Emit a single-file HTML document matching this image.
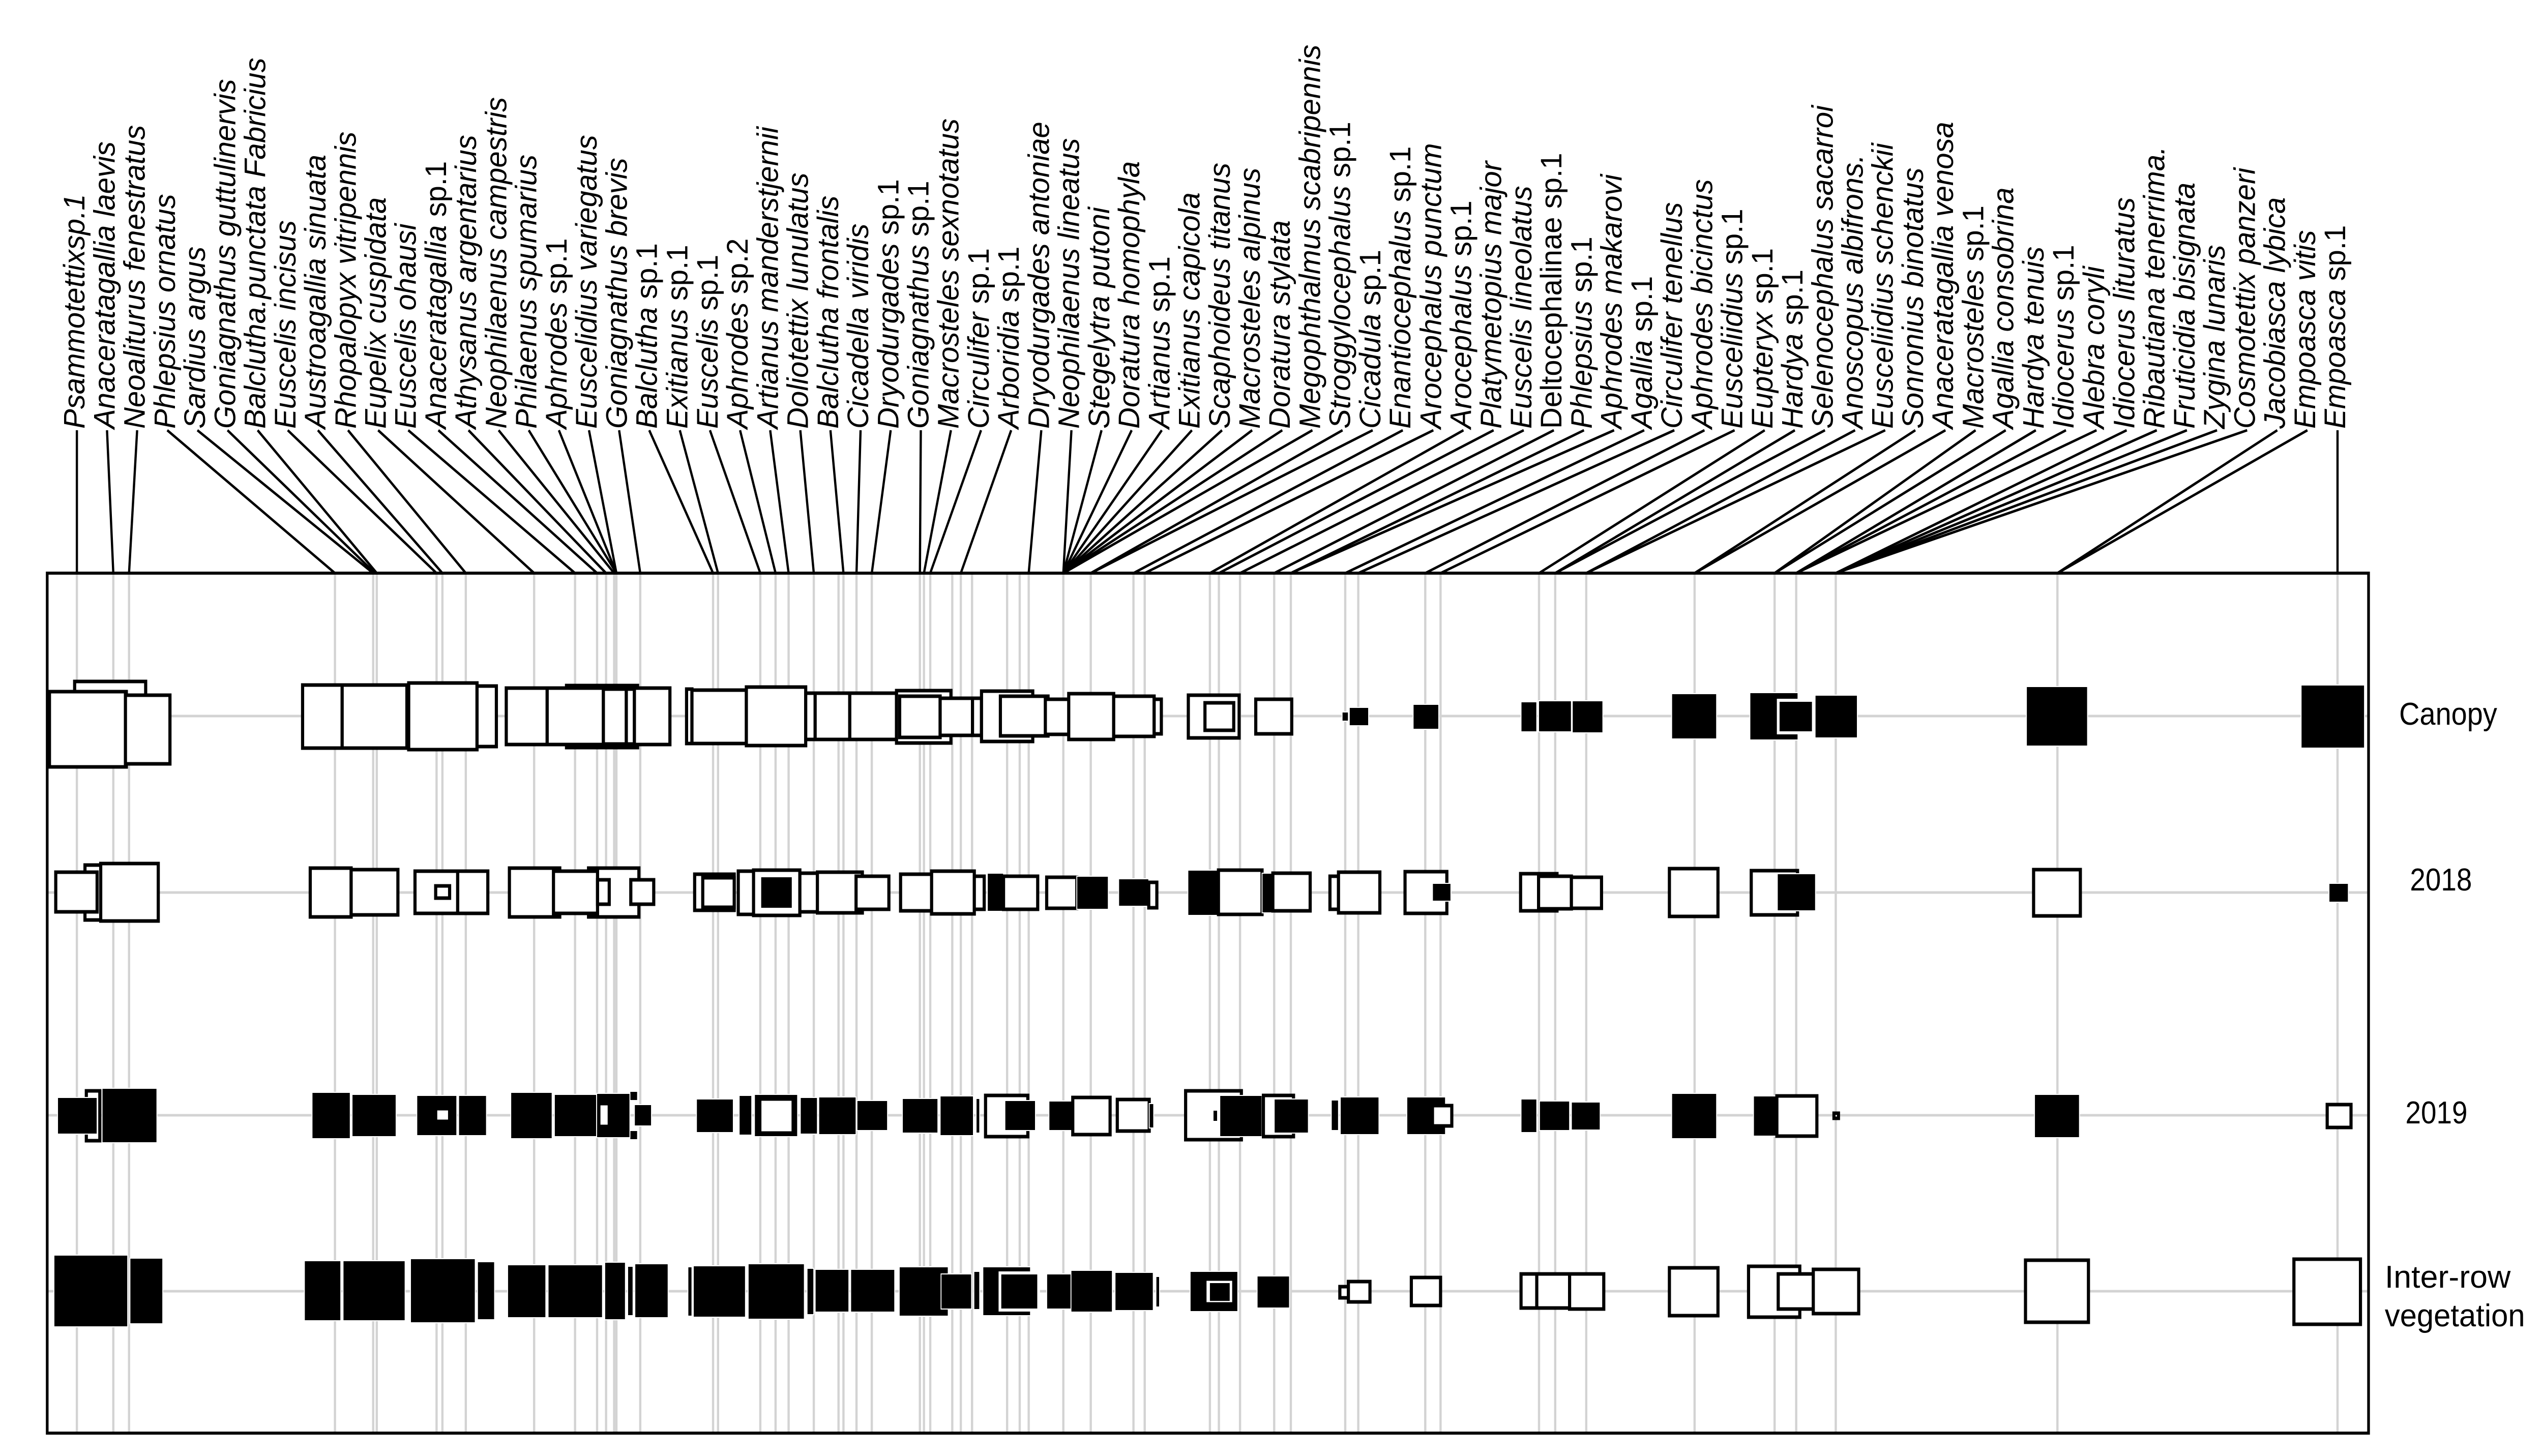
<!DOCTYPE html>
<html><head><meta charset="utf-8"><style>
html,body{margin:0;padding:0;background:#fff;width:100%;height:100%;overflow:hidden;}
svg{display:block;position:absolute;left:0;top:0;width:100vw;height:100vh;}
.g{stroke:#d3d3d3;stroke-width:5;}
.w{fill:#fff;stroke:#000;stroke-width:7;}
.b{fill:#000;stroke:#fff;stroke-width:2;}
.bw{fill:#000;stroke:#fff;stroke-width:6;}
.ld{stroke:#000;stroke-width:5;fill:none;}
.lb{font-family:"Liberation Sans",Arial,sans-serif;font-size:66px;font-style:italic;fill:#000;}
.lb tspan{font-style:normal;}
.rl{font-family:"Liberation Sans",Arial,sans-serif;font-size:62px;fill:#000;}
</style></head><body>
<svg viewBox="0 0 5656 2863" preserveAspectRatio="none" xmlns="http://www.w3.org/2000/svg">
<rect x="0" y="0" width="5656" height="2863" fill="#fff"/>
<g class="g">
<line x1="105" y1="1408" x2="5268" y2="1408"/>
<line x1="105" y1="1755" x2="5268" y2="1755"/>
<line x1="105" y1="2193" x2="5268" y2="2193"/>
<line x1="105" y1="2539" x2="5268" y2="2539"/>
</g>
<g class="g">
<line x1="171" y1="1127" x2="171" y2="2818"/><line x1="252" y1="1127" x2="252" y2="2818"/><line x1="287" y1="1127" x2="287" y2="2818"/><line x1="745" y1="1127" x2="745" y2="2818"/><line x1="830" y1="1127" x2="830" y2="2818"/><line x1="838" y1="1127" x2="838" y2="2818"/><line x1="971" y1="1127" x2="971" y2="2818"/><line x1="984" y1="1127" x2="984" y2="2818"/><line x1="1036" y1="1127" x2="1036" y2="2818"/><line x1="1188" y1="1127" x2="1188" y2="2818"/><line x1="1279" y1="1127" x2="1279" y2="2818"/><line x1="1328" y1="1127" x2="1328" y2="2818"/><line x1="1348" y1="1127" x2="1348" y2="2818"/><line x1="1366" y1="1127" x2="1366" y2="2818"/><line x1="1371" y1="1127" x2="1371" y2="2818"/><line x1="1424" y1="1127" x2="1424" y2="2818"/><line x1="1586" y1="1127" x2="1586" y2="2818"/><line x1="1597" y1="1127" x2="1597" y2="2818"/><line x1="1691" y1="1127" x2="1691" y2="2818"/><line x1="1725" y1="1127" x2="1725" y2="2818"/><line x1="1754" y1="1127" x2="1754" y2="2818"/><line x1="1810" y1="1127" x2="1810" y2="2818"/><line x1="1865" y1="1127" x2="1865" y2="2818"/><line x1="1876" y1="1127" x2="1876" y2="2818"/><line x1="1905" y1="1127" x2="1905" y2="2818"/><line x1="1939" y1="1127" x2="1939" y2="2818"/><line x1="2046" y1="1127" x2="2046" y2="2818"/><line x1="2055" y1="1127" x2="2055" y2="2818"/><line x1="2069" y1="1127" x2="2069" y2="2818"/><line x1="2118" y1="1127" x2="2118" y2="2818"/><line x1="2137" y1="1127" x2="2137" y2="2818"/><line x1="2162" y1="1127" x2="2162" y2="2818"/><line x1="2240" y1="1127" x2="2240" y2="2818"/><line x1="2268" y1="1127" x2="2268" y2="2818"/><line x1="2288" y1="1127" x2="2288" y2="2818"/><line x1="2365" y1="1127" x2="2365" y2="2818"/><line x1="2426" y1="1127" x2="2426" y2="2818"/><line x1="2521" y1="1127" x2="2521" y2="2818"/><line x1="2546" y1="1127" x2="2546" y2="2818"/><line x1="2691" y1="1127" x2="2691" y2="2818"/><line x1="2711" y1="1127" x2="2711" y2="2818"/><line x1="2758" y1="1127" x2="2758" y2="2818"/><line x1="2834" y1="1127" x2="2834" y2="2818"/><line x1="2871" y1="1127" x2="2871" y2="2818"/><line x1="2992" y1="1127" x2="2992" y2="2818"/><line x1="3021" y1="1127" x2="3021" y2="2818"/><line x1="3170" y1="1127" x2="3170" y2="2818"/><line x1="3204" y1="1127" x2="3204" y2="2818"/><line x1="3423" y1="1127" x2="3423" y2="2818"/><line x1="3459" y1="1127" x2="3459" y2="2818"/><line x1="3528" y1="1127" x2="3528" y2="2818"/><line x1="3769" y1="1127" x2="3769" y2="2818"/><line x1="3947" y1="1127" x2="3947" y2="2818"/><line x1="3995" y1="1127" x2="3995" y2="2818"/><line x1="4083" y1="1127" x2="4083" y2="2818"/><line x1="4576" y1="1127" x2="4576" y2="2818"/><line x1="5199" y1="1127" x2="5199" y2="2818"/>
</g>
<g>
<rect class="w" x="166" y="1340" width="158" height="137"/>
<rect class="w" x="110" y="1360" width="171" height="148"/>
<rect class="w" x="279" y="1367" width="99" height="135"/>
<rect class="w" x="673" y="1347" width="88" height="124"/>
<rect class="w" x="761" y="1347" width="144" height="124"/>
<rect class="w" x="909" y="1343" width="152" height="131"/>
<rect class="w" x="1061" y="1349" width="43" height="119"/>
<rect class="w" x="1260" y="1348" width="158" height="122"/>
<rect class="w" x="1126" y="1353" width="91" height="111"/>
<rect class="w" x="1217" y="1353" width="125" height="111"/>
<rect class="w" x="1342" y="1355" width="51" height="108"/>
<rect class="w" x="1393" y="1355" width="18" height="108"/>
<rect class="w" x="1411" y="1353" width="79" height="111"/>
<rect class="w" x="1527" y="1355" width="12" height="107"/>
<rect class="w" x="1539" y="1357" width="121" height="105"/>
<rect class="w" x="1660" y="1351" width="132" height="115"/>
<rect class="w" x="1792" y="1363" width="21" height="91"/>
<rect class="w" x="1813" y="1363" width="77" height="91"/>
<rect class="w" x="1890" y="1363" width="104" height="91"/>
<rect class="w" x="1994" y="1358" width="121" height="103"/>
<rect class="w" x="2001" y="1369" width="90" height="81"/>
<rect class="w" x="2091" y="1373" width="72" height="73"/>
<rect class="w" x="2163" y="1373" width="20" height="73"/>
<rect class="w" x="2183" y="1359" width="114" height="99"/>
<rect class="w" x="2225" y="1369" width="106" height="78"/>
<rect class="w" x="2325" y="1375" width="80" height="69"/>
<rect class="w" x="2377" y="1364" width="100" height="90"/>
<rect class="w" x="2477" y="1369" width="90" height="79"/>
<rect class="w" x="2567" y="1375" width="16" height="68"/>
<rect class="w" x="2643" y="1367" width="113" height="84"/>
<rect class="w" x="2680" y="1382" width="64" height="54"/>
<rect class="w" x="2793" y="1375" width="80" height="68"/>
<rect class="b" x="2985" y="1400" width="14" height="18"/>
<rect class="b" x="3001" y="1391" width="43" height="36"/>
<rect class="b" x="3143" y="1385" width="57" height="49"/>
<rect class="b" x="3383" y="1380" width="35" height="59"/>
<rect class="b" x="3422" y="1378" width="73" height="61"/>
<rect class="b" x="3497" y="1378" width="68" height="63"/>
<rect class="b" x="3718" y="1364" width="100" height="89"/>
<rect class="b" x="3892" y="1362" width="107" height="93"/>
<rect class="bw" x="3955" y="1377" width="78" height="64"/>
<rect class="b" x="4037" y="1367" width="94" height="84"/>
<rect class="b" x="4507" y="1350" width="136" height="117"/>
<rect class="b" x="5118" y="1347" width="141" height="124"/>
</g>
<g>
<rect class="w" x="189" y="1701" width="38" height="108"/>
<rect class="w" x="124" y="1715" width="92" height="78"/>
<rect class="w" x="224" y="1698" width="128" height="113"/>
<rect class="w" x="690" y="1707" width="91" height="96"/>
<rect class="w" x="781" y="1710" width="104" height="89"/>
<rect class="w" x="923" y="1713" width="95" height="83"/>
<rect class="w" x="969" y="1742" width="31" height="24"/>
<rect class="w" x="1018" y="1713" width="67" height="83"/>
<rect class="w" x="1309" y="1707" width="112" height="96"/>
<rect class="w" x="1133" y="1707" width="112" height="96"/>
<rect class="w" x="1231" y="1713" width="98" height="83"/>
<rect class="w" x="1329" y="1730" width="26" height="48"/>
<rect class="w" x="1403" y="1730" width="51" height="48"/>
<rect class="w" x="1545" y="1719" width="88" height="71"/>
<rect class="w" x="1563" y="1726" width="70" height="58"/>
<rect class="w" x="1642" y="1713" width="34" height="85"/>
<rect class="w" x="1676" y="1711" width="103" height="89"/>
<rect class="b" x="1692" y="1724" width="70" height="62"/>
<rect class="w" x="1779" y="1717" width="39" height="76"/>
<rect class="w" x="1818" y="1715" width="100" height="80"/>
<rect class="w" x="1904" y="1723" width="73" height="65"/>
<rect class="w" x="2003" y="1719" width="84" height="72"/>
<rect class="w" x="2072" y="1713" width="95" height="84"/>
<rect class="w" x="2167" y="1723" width="22" height="65"/>
<rect class="b" x="2196" y="1717" width="36" height="75"/>
<rect class="w" x="2232" y="1723" width="76" height="65"/>
<rect class="w" x="2328" y="1725" width="67" height="61"/>
<rect class="b" x="2395" y="1723" width="70" height="65"/>
<rect class="b" x="2488" y="1728" width="67" height="54"/>
<rect class="w" x="2555" y="1735" width="18" height="50"/>
<rect class="b" x="2642" y="1711" width="68" height="89"/>
<rect class="w" x="2710" y="1711" width="97" height="87"/>
<rect class="b" x="2807" y="1717" width="24" height="78"/>
<rect class="w" x="2831" y="1717" width="83" height="74"/>
<rect class="w" x="2958" y="1723" width="19" height="65"/>
<rect class="w" x="2977" y="1715" width="92" height="80"/>
<rect class="w" x="3125" y="1714" width="93" height="82"/>
<rect class="b" x="3186" y="1737" width="41" height="35"/>
<rect class="w" x="3382" y="1718" width="81" height="73"/>
<rect class="w" x="3422" y="1723" width="73" height="64"/>
<rect class="w" x="3495" y="1725" width="67" height="61"/>
<rect class="w" x="3713" y="1708" width="108" height="94"/>
<rect class="w" x="3895" y="1712" width="103" height="87"/>
<rect class="b" x="3953" y="1718" width="85" height="73"/>
<rect class="w" x="4523" y="1710" width="104" height="91"/>
<rect class="b" x="5180" y="1737" width="43" height="37"/>
</g>
<g>
<rect class="w" x="192" y="2145" width="30" height="98"/>
<rect class="b" x="128" y="2158" width="88" height="72"/>
<rect class="b" x="227" y="2140" width="122" height="107"/>
<rect class="b" x="694" y="2148" width="85" height="91"/>
<rect class="b" x="783" y="2152" width="98" height="83"/>
<rect class="b" x="927" y="2154" width="89" height="79"/>
<rect class="w" x="969" y="2180" width="31" height="25"/>
<rect class="b" x="1020" y="2154" width="62" height="79"/>
<rect class="b" x="1136" y="2148" width="92" height="91"/>
<rect class="b" x="1233" y="2152" width="94" height="83"/>
<rect class="b" x="1401" y="2146" width="17" height="18"/>
<rect class="b" x="1401" y="2223" width="17" height="18"/>
<rect class="b" x="1327" y="2150" width="74" height="87"/>
<rect class="w" x="1332" y="2170" width="23" height="45"/>
<rect class="b" x="1411" y="2172" width="38" height="42"/>
<rect class="b" x="1549" y="2161" width="82" height="66"/>
<rect class="b" x="1644" y="2154" width="28" height="78"/>
<rect class="b" x="1678" y="2152" width="96" height="83"/>
<rect class="w" x="1690" y="2161" width="74" height="67"/>
<rect class="b" x="1780" y="2158" width="38" height="72"/>
<rect class="b" x="1821" y="2157" width="83" height="74"/>
<rect class="b" x="1906" y="2164" width="68" height="59"/>
<rect class="b" x="2007" y="2160" width="79" height="68"/>
<rect class="b" x="2091" y="2155" width="74" height="78"/>
<rect class="b" x="2171" y="2160" width="8" height="68"/>
<rect class="w" x="2192" y="2154" width="94" height="81"/>
<rect class="b" x="2235" y="2164" width="68" height="59"/>
<rect class="b" x="2333" y="2165" width="62" height="58"/>
<rect class="w" x="2386" y="2158" width="83" height="73"/>
<rect class="w" x="2485" y="2162" width="71" height="62"/>
<rect class="b" x="2556" y="2170" width="10" height="48"/>
<rect class="w" x="2637" y="2145" width="124" height="96"/>
<rect class="b" x="2698" y="2183" width="10" height="22"/>
<rect class="b" x="2713" y="2154" width="94" height="81"/>
<rect class="w" x="2810" y="2154" width="67" height="81"/>
<rect class="b" x="2834" y="2161" width="76" height="67"/>
<rect class="b" x="2961" y="2163" width="16" height="60"/>
<rect class="b" x="2981" y="2157" width="86" height="74"/>
<rect class="b" x="3129" y="2157" width="86" height="74"/>
<rect class="w" x="3186" y="2174" width="43" height="40"/>
<rect class="b" x="3383" y="2161" width="35" height="66"/>
<rect class="b" x="3424" y="2165" width="67" height="58"/>
<rect class="b" x="3495" y="2167" width="64" height="55"/>
<rect class="b" x="3718" y="2150" width="100" height="89"/>
<rect class="b" x="3900" y="2155" width="55" height="79"/>
<rect class="w" x="3952" y="2155" width="89" height="79"/>
<rect class="w" x="4079" y="2189" width="10" height="10"/>
<rect class="b" x="4525" y="2152" width="100" height="85"/>
<rect class="w" x="5176" y="2172" width="53" height="45"/>
</g>
<g>
<rect class="b" x="120" y="2468" width="164" height="141"/>
<rect class="b" x="289" y="2474" width="73" height="129"/>
<rect class="b" x="677" y="2479" width="81" height="118"/>
<rect class="b" x="763" y="2479" width="138" height="118"/>
<rect class="b" x="913" y="2475" width="144" height="126"/>
<rect class="b" x="1062" y="2481" width="38" height="114"/>
<rect class="b" x="1129" y="2487" width="85" height="104"/>
<rect class="b" x="1219" y="2487" width="121" height="104"/>
<rect class="b" x="1345" y="2482" width="46" height="113"/>
<rect class="b" x="1396" y="2490" width="12" height="97"/>
<rect class="b" x="1412" y="2485" width="74" height="106"/>
<rect class="b" x="1530" y="2491" width="9" height="97"/>
<rect class="b" x="1542" y="2489" width="116" height="101"/>
<rect class="b" x="1664" y="2485" width="125" height="109"/>
<rect class="b" x="1795" y="2494" width="15" height="91"/>
<rect class="b" x="1813" y="2496" width="75" height="84"/>
<rect class="b" x="1892" y="2496" width="98" height="84"/>
<rect class="b" x="2000" y="2491" width="109" height="97"/>
<rect class="b" x="2093" y="2505" width="68" height="69"/>
<rect class="b" x="2166" y="2500" width="13" height="75"/>
<rect class="b" x="2186" y="2491" width="106" height="96"/>
<rect class="bw" x="2224" y="2503" width="86" height="73"/>
<rect class="b" x="2328" y="2505" width="77" height="69"/>
<rect class="b" x="2382" y="2498" width="92" height="82"/>
<rect class="b" x="2480" y="2502" width="85" height="75"/>
<rect class="b" x="2571" y="2510" width="8" height="60"/>
<rect class="b" x="2647" y="2500" width="106" height="79"/>
<rect class="w" x="2680" y="2515" width="64" height="49"/>
<rect class="b" x="2690" y="2522" width="46" height="37"/>
<rect class="b" x="2796" y="2509" width="72" height="63"/>
<rect class="w" x="2980" y="2530" width="21" height="22"/>
<rect class="w" x="2999" y="2520" width="48" height="40"/>
<rect class="w" x="3139" y="2512" width="65" height="55"/>
<rect class="w" x="3383" y="2505" width="35" height="67"/>
<rect class="w" x="3418" y="2505" width="77" height="67"/>
<rect class="w" x="3491" y="2505" width="76" height="69"/>
<rect class="w" x="3713" y="2493" width="108" height="94"/>
<rect class="w" x="3889" y="2490" width="114" height="100"/>
<rect class="w" x="3955" y="2505" width="80" height="69"/>
<rect class="w" x="4033" y="2496" width="101" height="87"/>
<rect class="w" x="4505" y="2478" width="140" height="122"/>
<rect class="w" x="5102" y="2476" width="148" height="128"/>
</g>
<rect x="105" y="1127" width="5163" height="1691" fill="none" stroke="#000" stroke-width="6"/>
<g class="ld">
<line x1="171" y1="846" x2="171" y2="1127"/><line x1="238" y1="846" x2="252" y2="1127"/><line x1="305" y1="846" x2="287" y2="1127"/><line x1="372" y1="846" x2="745" y2="1127"/><line x1="439" y1="846" x2="830" y2="1127"/><line x1="506" y1="846" x2="834" y2="1127"/><line x1="573" y1="846" x2="838" y2="1127"/><line x1="640" y1="846" x2="971" y2="1127"/><line x1="707" y1="846" x2="984" y2="1127"/><line x1="774" y1="846" x2="1036" y2="1127"/><line x1="841" y1="846" x2="1188" y2="1127"/><line x1="908" y1="846" x2="1279" y2="1127"/><line x1="975" y1="846" x2="1328" y2="1127"/><line x1="1042" y1="846" x2="1348" y2="1127"/><line x1="1109" y1="846" x2="1366" y2="1127"/><line x1="1176" y1="846" x2="1371" y2="1127"/><line x1="1243" y1="846" x2="1371" y2="1127"/><line x1="1310" y1="846" x2="1371" y2="1127"/><line x1="1377" y1="846" x2="1424" y2="1127"/><line x1="1444" y1="846" x2="1586" y2="1127"/><line x1="1512" y1="846" x2="1597" y2="1127"/><line x1="1579" y1="846" x2="1691" y2="1127"/><line x1="1646" y1="846" x2="1725" y2="1127"/><line x1="1713" y1="846" x2="1754" y2="1127"/><line x1="1780" y1="846" x2="1810" y2="1127"/><line x1="1847" y1="846" x2="1876" y2="1127"/><line x1="1914" y1="846" x2="1905" y2="1127"/><line x1="1981" y1="846" x2="1939" y2="1127"/><line x1="2048" y1="846" x2="2046" y2="1127"/><line x1="2115" y1="846" x2="2055" y2="1127"/><line x1="2182" y1="846" x2="2069" y2="1127"/><line x1="2249" y1="846" x2="2137" y2="1127"/><line x1="2316" y1="846" x2="2288" y2="1127"/><line x1="2383" y1="846" x2="2365" y2="1127"/><line x1="2450" y1="846" x2="2365" y2="1127"/><line x1="2517" y1="846" x2="2365" y2="1127"/><line x1="2584" y1="846" x2="2365" y2="1127"/><line x1="2651" y1="846" x2="2365" y2="1127"/><line x1="2718" y1="846" x2="2365" y2="1127"/><line x1="2785" y1="846" x2="2365" y2="1127"/><line x1="2852" y1="846" x2="2365" y2="1127"/><line x1="2919" y1="846" x2="2365" y2="1127"/><line x1="2986" y1="846" x2="2426" y2="1127"/><line x1="3053" y1="846" x2="2426" y2="1127"/><line x1="3120" y1="846" x2="2521" y2="1127"/><line x1="3188" y1="846" x2="2546" y2="1127"/><line x1="3255" y1="846" x2="2691" y2="1127"/><line x1="3322" y1="846" x2="2711" y2="1127"/><line x1="3389" y1="846" x2="2758" y2="1127"/><line x1="3456" y1="846" x2="2834" y2="1127"/><line x1="3523" y1="846" x2="2871" y2="1127"/><line x1="3590" y1="846" x2="2871" y2="1127"/><line x1="3657" y1="846" x2="2992" y2="1127"/><line x1="3724" y1="846" x2="3021" y2="1127"/><line x1="3791" y1="846" x2="3170" y2="1127"/><line x1="3858" y1="846" x2="3204" y2="1127"/><line x1="3925" y1="846" x2="3423" y2="1127"/><line x1="3992" y1="846" x2="3459" y2="1127"/><line x1="4059" y1="846" x2="3459" y2="1127"/><line x1="4126" y1="846" x2="3528" y2="1127"/><line x1="4193" y1="846" x2="3528" y2="1127"/><line x1="4260" y1="846" x2="3769" y2="1127"/><line x1="4327" y1="846" x2="3769" y2="1127"/><line x1="4394" y1="846" x2="3947" y2="1127"/><line x1="4461" y1="846" x2="3947" y2="1127"/><line x1="4528" y1="846" x2="3995" y2="1127"/><line x1="4595" y1="846" x2="3995" y2="1127"/><line x1="4663" y1="846" x2="3995" y2="1127"/><line x1="4730" y1="846" x2="4083" y2="1127"/><line x1="4797" y1="846" x2="4083" y2="1127"/><line x1="4864" y1="846" x2="4083" y2="1127"/><line x1="4931" y1="846" x2="4083" y2="1127"/><line x1="4998" y1="846" x2="4083" y2="1127"/><line x1="5065" y1="846" x2="4576" y2="1127"/><line x1="5132" y1="846" x2="4576" y2="1127"/><line x1="5199" y1="846" x2="5199" y2="1127"/>
</g>
<g class="lb">
<text transform="translate(188,843) rotate(-90) scale(0.88,1)">Psammotettixsp.1</text>
<text transform="translate(255,843) rotate(-90) scale(0.88,1)">Anaceratagallia laevis</text>
<text transform="translate(322,843) rotate(-90) scale(0.88,1)">Neoaliturus fenestratus</text>
<text transform="translate(389,843) rotate(-90) scale(0.88,1)">Phlepsius ornatus</text>
<text transform="translate(456,843) rotate(-90) scale(0.88,1)">Sardius argus</text>
<text transform="translate(523,843) rotate(-90) scale(0.88,1)">Goniagnathus guttulinervis</text>
<text transform="translate(590,843) rotate(-90) scale(0.88,1)">Balclutha.punctata  Fabricius</text>
<text transform="translate(657,843) rotate(-90) scale(0.88,1)">Euscelis incisus</text>
<text transform="translate(724,843) rotate(-90) scale(0.88,1)">Austroagallia sinuata</text>
<text transform="translate(791,843) rotate(-90) scale(0.88,1)">Rhopalopyx vitripennis</text>
<text transform="translate(858,843) rotate(-90) scale(0.88,1)">Eupelix cuspidata</text>
<text transform="translate(925,843) rotate(-90) scale(0.88,1)">Euscelis ohausi</text>
<text transform="translate(992,843) rotate(-90) scale(0.88,1)">Anaceratagallia<tspan> sp.1</tspan></text>
<text transform="translate(1059,843) rotate(-90) scale(0.88,1)">Athysanus argentarius</text>
<text transform="translate(1126,843) rotate(-90) scale(0.88,1)">Neophilaenus campestris</text>
<text transform="translate(1193,843) rotate(-90) scale(0.88,1)">Philaenus spumarius</text>
<text transform="translate(1260,843) rotate(-90) scale(0.88,1)">Aphrodes<tspan> sp.1</tspan></text>
<text transform="translate(1327,843) rotate(-90) scale(0.88,1)">Euscelidius variegatus</text>
<text transform="translate(1394,843) rotate(-90) scale(0.88,1)">Goniagnathus  brevis</text>
<text transform="translate(1461,843) rotate(-90) scale(0.88,1)">Balclutha<tspan> sp.1</tspan></text>
<text transform="translate(1529,843) rotate(-90) scale(0.88,1)">Exitianus<tspan> sp.1</tspan></text>
<text transform="translate(1596,843) rotate(-90) scale(0.88,1)">Euscelis<tspan> sp.1</tspan></text>
<text transform="translate(1663,843) rotate(-90) scale(0.88,1)">Aphrodes<tspan> sp.2</tspan></text>
<text transform="translate(1730,843) rotate(-90) scale(0.88,1)">Artianus manderstjernii</text>
<text transform="translate(1797,843) rotate(-90) scale(0.88,1)">Doliotettix lunulatus</text>
<text transform="translate(1864,843) rotate(-90) scale(0.88,1)">Balclutha  frontalis</text>
<text transform="translate(1931,843) rotate(-90) scale(0.88,1)">Cicadella viridis</text>
<text transform="translate(1998,843) rotate(-90) scale(0.88,1)">Dryodurgades<tspan> sp.1</tspan></text>
<text transform="translate(2065,843) rotate(-90) scale(0.88,1)">Goniagnathus<tspan> sp.1</tspan></text>
<text transform="translate(2132,843) rotate(-90) scale(0.88,1)">Macrosteles  sexnotatus</text>
<text transform="translate(2199,843) rotate(-90) scale(0.88,1)">Circulifer<tspan> sp.1</tspan></text>
<text transform="translate(2266,843) rotate(-90) scale(0.88,1)">Arboridia<tspan> sp.1</tspan></text>
<text transform="translate(2333,843) rotate(-90) scale(0.88,1)">Dryodurgades  antoniae</text>
<text transform="translate(2400,843) rotate(-90) scale(0.88,1)">Neophilaenus  lineatus</text>
<text transform="translate(2467,843) rotate(-90) scale(0.88,1)">Stegelytra  putoni</text>
<text transform="translate(2534,843) rotate(-90) scale(0.88,1)">Doratura  homophyla</text>
<text transform="translate(2601,843) rotate(-90) scale(0.88,1)">Artianus<tspan> sp.1</tspan></text>
<text transform="translate(2668,843) rotate(-90) scale(0.88,1)">Exitianus  capicola</text>
<text transform="translate(2735,843) rotate(-90) scale(0.88,1)">Scaphoideus  titanus</text>
<text transform="translate(2802,843) rotate(-90) scale(0.88,1)">Macrosteles  alpinus</text>
<text transform="translate(2869,843) rotate(-90) scale(0.88,1)">Doratura  stylata</text>
<text transform="translate(2936,843) rotate(-90) scale(0.88,1)">Megophthalmus  scabripennis</text>
<text transform="translate(3003,843) rotate(-90) scale(0.88,1)">Stroggylocephalus<tspan> sp.1</tspan></text>
<text transform="translate(3070,843) rotate(-90) scale(0.88,1)">Cicadula<tspan> sp.1</tspan></text>
<text transform="translate(3137,843) rotate(-90) scale(0.88,1)">Enantiocephalus<tspan> sp.1</tspan></text>
<text transform="translate(3205,843) rotate(-90) scale(0.88,1)">Arocephalus  punctum</text>
<text transform="translate(3272,843) rotate(-90) scale(0.88,1)">Arocephalus<tspan> sp.1</tspan></text>
<text transform="translate(3339,843) rotate(-90) scale(0.88,1)">Platymetopius  major</text>
<text transform="translate(3406,843) rotate(-90) scale(0.88,1)">Euscelis lineolatus</text>
<text transform="translate(3473,843) rotate(-90) scale(0.88,1)"><tspan>Deltocephalinae sp.1</tspan></text>
<text transform="translate(3540,843) rotate(-90) scale(0.88,1)">Phlepsius<tspan> sp.1</tspan></text>
<text transform="translate(3607,843) rotate(-90) scale(0.88,1)">Aphrodes  makarovi</text>
<text transform="translate(3674,843) rotate(-90) scale(0.88,1)">Agallia<tspan> sp.1</tspan></text>
<text transform="translate(3741,843) rotate(-90) scale(0.88,1)">Circulifer tenellus</text>
<text transform="translate(3808,843) rotate(-90) scale(0.88,1)">Aphrodes  bicinctus</text>
<text transform="translate(3875,843) rotate(-90) scale(0.88,1)">Eusceliidius<tspan> sp.1</tspan></text>
<text transform="translate(3942,843) rotate(-90) scale(0.88,1)">Eupteryx<tspan> sp.1</tspan></text>
<text transform="translate(4009,843) rotate(-90) scale(0.88,1)">Hardya<tspan> sp.1</tspan></text>
<text transform="translate(4076,843) rotate(-90) scale(0.88,1)">Selenocephalus  sacarroi</text>
<text transform="translate(4143,843) rotate(-90) scale(0.88,1)">Anoscopus  albifrons.</text>
<text transform="translate(4210,843) rotate(-90) scale(0.88,1)">Eusceliidius  schenckii</text>
<text transform="translate(4277,843) rotate(-90) scale(0.88,1)">Sonronius  binotatus</text>
<text transform="translate(4344,843) rotate(-90) scale(0.88,1)">Anaceratagallia  venosa</text>
<text transform="translate(4411,843) rotate(-90) scale(0.88,1)">Macrosteles<tspan> sp.1</tspan></text>
<text transform="translate(4478,843) rotate(-90) scale(0.88,1)">Agallia  consobrina</text>
<text transform="translate(4545,843) rotate(-90) scale(0.88,1)">Hardya  tenuis</text>
<text transform="translate(4612,843) rotate(-90) scale(0.88,1)">Idiocerus<tspan> sp.1</tspan></text>
<text transform="translate(4680,843) rotate(-90) scale(0.88,1)">Alebra  coryli</text>
<text transform="translate(4747,843) rotate(-90) scale(0.88,1)">Idiocerus  lituratus</text>
<text transform="translate(4814,843) rotate(-90) scale(0.88,1)">Ribautiana  tenerrima.</text>
<text transform="translate(4881,843) rotate(-90) scale(0.88,1)">Fruticidia  bisignata</text>
<text transform="translate(4948,843) rotate(-90) scale(0.88,1)">Zygina  lunaris</text>
<text transform="translate(5015,843) rotate(-90) scale(0.88,1)">Cosmotettix  panzeri</text>
<text transform="translate(5082,843) rotate(-90) scale(0.88,1)">Jacobiasca  lybica</text>
<text transform="translate(5149,843) rotate(-90) scale(0.88,1)">Empoasca  vitis</text>
<text transform="translate(5216,843) rotate(-90) scale(0.88,1)">Empoasca<tspan> sp.1</tspan></text>
</g>
<g class="rl">
<text x="5336" y="1425" textLength="218" lengthAdjust="spacingAndGlyphs">Canopy</text>
<text x="5360" y="1751" textLength="138" lengthAdjust="spacingAndGlyphs">2018</text>
<text x="5350" y="2209" textLength="138" lengthAdjust="spacingAndGlyphs">2019</text>
<text x="5304" y="2532" textLength="280" lengthAdjust="spacingAndGlyphs">Inter-row</text>
<text x="5304" y="2608" textLength="312" lengthAdjust="spacingAndGlyphs">vegetation</text>
</g>
</svg>
</body></html>
